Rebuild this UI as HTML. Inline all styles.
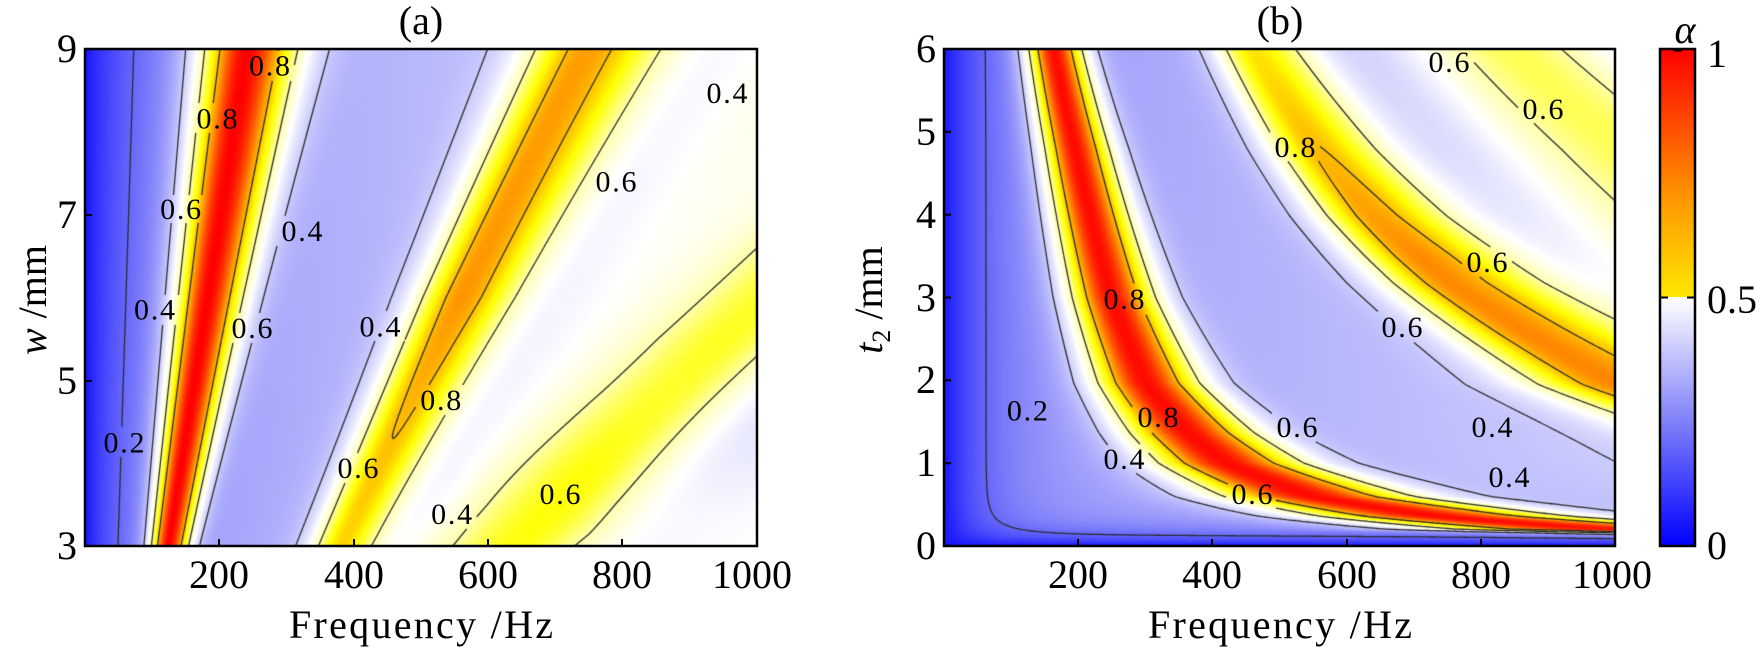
<!DOCTYPE html>
<html><head><meta charset="utf-8">
<style>
html,body{margin:0;padding:0;background:#fff;}
#wrap{position:relative;width:1762px;height:648px;overflow:hidden;background:#fff;}
canvas{position:absolute;}
svg{position:absolute;left:0;top:0;}
svg text{font-family:"Liberation Serif",serif;}
#cb{position:absolute;left:1660px;top:49px;width:35px;height:497px;
background:linear-gradient(to bottom,#ff0000 0%,#ff9600 30%,#ffff00 56%,#ffffaa 80%,#ffffff 100%);}
#cb2{position:absolute;left:1660px;top:297px;width:35px;height:249px;
background:linear-gradient(to bottom,#ffffff 0%,#8080fa 50%,#0000ff 100%);}
</style></head><body>
<div id="wrap">
<canvas id="ca" width="672" height="497" style="left:85px;top:49px"></canvas>
<canvas id="cbb" width="671" height="497" style="left:944px;top:49px"></canvas>
<div id="cb"></div><div id="cb2"></div>
<svg width="1762" height="648" fill="#000">
<rect x="85" y="49" width="672" height="497" fill="none" stroke="#000" stroke-width="2.5"/>
<rect x="944" y="49" width="671" height="497" fill="none" stroke="#000" stroke-width="2.5"/>
<rect x="1660" y="49" width="35" height="497" fill="none" stroke="#000" stroke-width="2.5"/>
<g stroke="#000" stroke-width="2">
<line x1="219" y1="546" x2="219" y2="539"/><line x1="354" y1="546" x2="354" y2="539"/>
<line x1="488" y1="546" x2="488" y2="539"/><line x1="622" y1="546" x2="622" y2="539"/>
<line x1="85" y1="215" x2="92" y2="215"/><line x1="85" y1="381" x2="92" y2="381"/>
<line x1="1078" y1="546" x2="1078" y2="539"/><line x1="1212" y1="546" x2="1212" y2="539"/>
<line x1="1347" y1="546" x2="1347" y2="539"/><line x1="1481" y1="546" x2="1481" y2="539"/>
<line x1="944" y1="131.8" x2="951" y2="131.8"/><line x1="944" y1="214.7" x2="951" y2="214.7"/>
<line x1="944" y1="297.5" x2="951" y2="297.5"/><line x1="944" y1="380.3" x2="951" y2="380.3"/>
<line x1="944" y1="463.2" x2="951" y2="463.2"/>
<line x1="1660" y1="297.5" x2="1668" y2="297.5"/><line x1="1687" y1="297.5" x2="1695" y2="297.5"/>
<line x1="1673" y1="50" x2="1682" y2="50" stroke-width="3"/>
</g>
<g font-size="40" text-anchor="middle">
<text x="219" y="588">200</text><text x="354" y="588">400</text><text x="488" y="588">600</text>
<text x="622" y="588">800</text><text x="752" y="588">1000</text>
<text x="1078" y="588">200</text><text x="1212" y="588">400</text><text x="1347" y="588">600</text>
<text x="1481" y="588">800</text><text x="1612" y="588">1000</text>
</g>
<g font-size="40" text-anchor="end">
<text x="77" y="62">9</text><text x="77" y="228">7</text><text x="77" y="394">5</text><text x="77" y="559">3</text>
<text x="936" y="62">6</text><text x="936" y="145">5</text><text x="936" y="228">4</text><text x="936" y="311">3</text>
<text x="936" y="393">2</text><text x="936" y="476">1</text><text x="936" y="559">0</text>
</g>
<g font-size="40">
<text x="1707" y="67">1</text><text x="1707" y="313">0.5</text><text x="1707" y="559">0</text>
<text x="1685" y="43" text-anchor="middle" font-style="italic">α</text>
</g>
<g font-size="40" text-anchor="middle">
<text x="421" y="34">(a)</text><text x="1280" y="34">(b)</text>
<text x="421" y="638" textLength="264">Frequency /Hz</text>
<text x="1280" y="638" textLength="264">Frequency /Hz</text>
<text transform="translate(46,300) rotate(-90)"><tspan font-style="italic">w</tspan> /mm</text>
<text transform="translate(882,300) rotate(-90)"><tspan font-style="italic">t</tspan><tspan font-size="26" dy="8">2</tspan><tspan dy="-8"> /mm</tspan></text>
</g>
<g font-size="30" text-anchor="middle" id="labs"></g>
</svg>
</div>
<script>
var LA=[[269.5,65.6,"0.8"],[217,118.5,"0.8"],[180.6,209,"0.6"],[302,231,"0.4"],[154.5,309.6,"0.4"],[252,328,"0.6"],[380,326.7,"0.4"],[616,181.6,"0.6"],[727,93,"0.4"],[124,442.7,"0.2"],[440.8,400,"0.8"],[358,468,"0.6"],[451.6,514,"0.4"],[560,494,"0.6"]];
var LB=[[1449,62,"0.6"],[1543,109,"0.6"],[1295,147,"0.8"],[1487,262,"0.6"],[1402,327,"0.6"],[1124,299,"0.8"],[1027.4,410.7,"0.2"],[1158,417,"0.8"],[1297,427,"0.6"],[1492,427,"0.4"],[1124,459,"0.4"],[1509,477,"0.4"],[1252,494,"0.6"]];
var g=document.getElementById('labs'),ns="http://www.w3.org/2000/svg";
LA.concat(LB).forEach(function(l){var t=document.createElementNS(ns,'text');t.setAttribute('x',l[0]);t.setAttribute('y',l[1]+10);t.setAttribute('textLength','41');t.textContent=l[2];g.appendChild(t);});
function cl(x,a,b){return x<a?a:(x>b?b:x);}
function ga(f,c,sl,sr){var s=f<c?sl:sr;var d=(f-c)/s;return Math.exp(-0.5*d*d);}
function fa(f,w){var d=w-3;var tau=55+5*d;
 var b=0.04+0.26*(1-Math.exp(-f/tau))+0.12*f/1000;
 var v=b;
 var c1=124+19.5*d,s1=20+4.8*d; v+=(1-b)*ga(f,c1,s1,s1*1.15);
 var c2=380+58*d+0.5*d*d,h2=0.72+0.12*cl(d/3,0,1); v+=(h2-b)*ga(f,c2,32+5*d,36+8*d);
 var c3=740+126*(w-3.75),h3=0.62+0.06*cl((w-3.5)/2,0,1); v+=Math.max(0,h3-b)*ga(f,c3,90,75);
 v+=0.1*ga(f,(c2+c3)/2,110,110);
 v+=0.08*Math.exp(-Math.pow((w-3)/1.2,2))*cl((f-550)/200,0,1);
 return cl(v,0,1);}
function ip(ts,fs,t){var n=ts.length,i=0;if(t<=ts[0])i=0;else if(t>=ts[n-1])i=n-2;else{while(t>ts[i+1])i++;}
 var u=(t-ts[i])/(ts[i+1]-ts[i]);return Math.exp(Math.log(fs[i])+u*(Math.log(fs[i+1])-Math.log(fs[i])));}
var T1=[0.05,0.2,0.36,0.6,1.0,1.37,1.97,3.0,3.58,4.79,6.0],F1=[2500,988,733,548,421,363,300,249,230,195,163];
var T2=[0.1,0.5,1.0,1.95,2.38,3.18,3.99,4.79,6.0],F2=[4000,2000,1400,1000,906,752,638,555,460];
function fb(f,t){var tt=Math.max(t,0.001);
 var b=0.04+0.26*(1-Math.exp(-f/70))*(1-Math.exp(-tt/0.15))+0.1*(f/1000)*(1-Math.exp(-tt/0.3));
 var amp=1-Math.exp(-tt/0.05);var v=b;
 var c1=ip(T1,F1,tt);v+=amp*(0.99-b)*ga(f,c1,0.18*c1,0.2*c1);
 var c2=ip(T2,F2,tt),h2=0.75+0.11*cl((6-tt)/2.5,0,1);v+=amp*(h2-b)*ga(f,c2,0.09*c2,0.14*c2);
 var c3=5.2*c1;v+=amp*Math.max(0,0.66-b)*ga(f,c3,0.13*c3,0.12*c3);
 return cl(v,0,1);}
var ST=[[0,0,0,255],[0.25,128,128,250],[0.5,255,255,255],[0.6,255,255,170],[0.72,255,255,0],[0.85,255,150,0],[1,255,0,0]];
function cm(v){for(var i=0;i<ST.length-1;i++){if(v<=ST[i+1][0]){var u=(v-ST[i][0])/(ST[i+1][0]-ST[i][0]);
 return [ST[i][1]+u*(ST[i+1][1]-ST[i][1]),ST[i][2]+u*(ST[i+1][2]-ST[i][2]),ST[i][3]+u*(ST[i+1][3]-ST[i][3])];}}return [255,0,0];}
function draw(id,W,H,fn,ytop,ox,oy,labs){
 var cv=document.getElementById(id),ctx=cv.getContext('2d');var im=ctx.createImageData(W,H);
 for(var y=0;y<H;y++){for(var x=0;x<W;x++){var v=fn((x+0.5)/W*1000,ytop-(y+0.5)/H*6);var c=cm(v);var k=(y*W+x)*4;
  im.data[k]=c[0];im.data[k+1]=c[1];im.data[k+2]=c[2];im.data[k+3]=255;}}
 ctx.putImageData(im,0,0);
 var S=2,nx=Math.ceil(W/S)+1,ny=Math.ceil(H/S)+1,G=[];
 for(var j=0;j<ny;j++){G[j]=[];for(var i=0;i<nx;i++){G[j][i]=fn(i*S/W*1000,ytop-j*S/H*6);}}
 ctx.strokeStyle="#2b2b2b";ctx.lineWidth=1.3;ctx.beginPath();
 function skip(x,y){for(var q=0;q<labs.length;q++){if(Math.abs(x+ox-labs[q][0])<25&&Math.abs(y+oy-labs[q][1])<15)return true;}return false;}
 [0.2,0.4,0.6,0.8].forEach(function(L){
  for(var j=0;j<ny-1;j++)for(var i=0;i<nx-1;i++){
   var a=G[j][i],b=G[j][i+1],c=G[j+1][i+1],d=G[j+1][i];
   var pts=[];var x0=i*S,y0=j*S;
   if((a-L)*(b-L)<0)pts.push([x0+S*(L-a)/(b-a),y0]);
   if((b-L)*(c-L)<0)pts.push([x0+S,y0+S*(L-b)/(c-b)]);
   if((d-L)*(c-L)<0)pts.push([x0+S*(L-d)/(c-d),y0+S]);
   if((a-L)*(d-L)<0)pts.push([x0,y0+S*(L-a)/(d-a)]);
   for(var p=0;p+1<pts.length;p+=2){var mx=(pts[p][0]+pts[p+1][0])/2,my=(pts[p][1]+pts[p+1][1])/2;
    if(skip(mx,my))continue;ctx.moveTo(pts[p][0],pts[p][1]);ctx.lineTo(pts[p+1][0],pts[p+1][1]);}
  }});
 ctx.stroke();}
draw('ca',672,497,fa,9,85,49,LA);
draw('cbb',671,497,fb,6,944,49,LB);
</script>
</body></html>
